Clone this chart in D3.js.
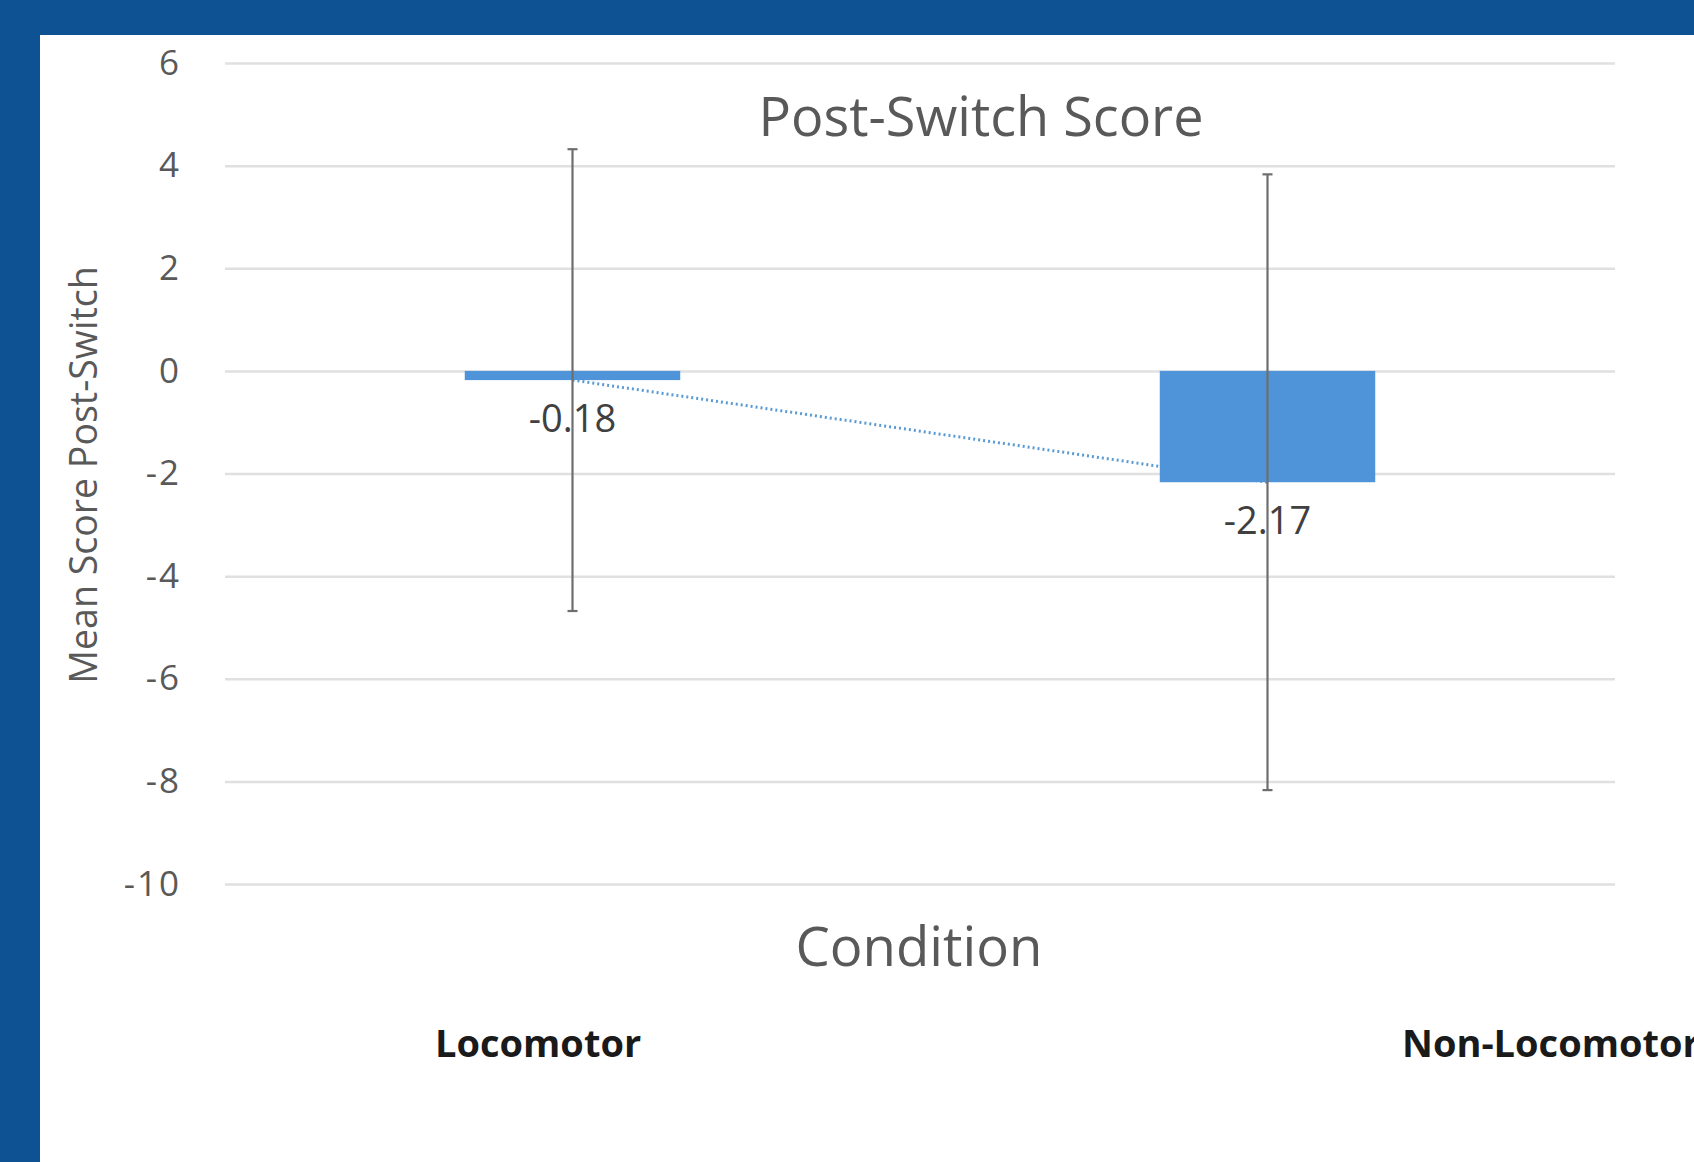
<!DOCTYPE html>
<html>
<head>
<meta charset="utf-8">
<script src="https://cdn.jsdelivr.net/npm/d3@7"></script>
<style>
  html, body { margin: 0; padding: 0; background: #0f5294; }
  svg { display: block; }
</style>
</head>
<body>
<svg id="chart"></svg>
<script>
// Chart data
const categories = ["Locomotor", "Non-Locomotor"];
const means = [-0.18, -2.17];
const errors = [4.5, 6.0];
const yTicks = [6, 4, 2, 0, -2, -4, -6, -8, -10];

const width = 1694;
const height = 1162;

const svg = d3.select("#chart")
    .attr("width", width)
    .attr("height", height);

// White panel sitting on the blue slide background
svg.append("rect")
    .attr("x", 40).attr("y", 35)
    .attr("width", width - 40).attr("height", height - 35)
    .attr("fill", "#ffffff");

const font = "'Open Sans', 'DejaVu Sans', sans-serif";

// Scales
const x = d3.scaleBand()
    .domain(categories)
    .range([225, 1615])
    .paddingInner(0.69)
    .paddingOuter(0.345);

const y = d3.scaleLinear()
    .domain([-10, 6])
    .range([884, 63]);

// Gridlines + tick labels through a left axis
const yAxis = d3.axisLeft(y)
    .tickValues(yTicks)
    .tickSize(-(1615 - 225))
    .tickPadding(44)
    .tickFormat(d3.format("d"));

const gAxis = svg.append("g")
    .attr("transform", "translate(225,0)")
    .call(yAxis);

gAxis.select(".domain").remove();
gAxis.selectAll(".tick line")
    .attr("stroke", "#e0e0e0")
    .attr("stroke-width", 2.5);
gAxis.selectAll(".tick text")
    .attr("fill", "#595959")
    .attr("font-family", font)
    .attr("font-size", 35)
    .attr("letter-spacing", 2)
    .text(d => d < 0 ? "-" + Math.abs(d) : d);

// Dotted trendline between the two means (behind the bars)
const trend = categories.map((c, i) => [x(c) + x.bandwidth() / 2, y(means[i])]);
svg.append("path")
    .attr("d", d3.line()(trend))
    .attr("fill", "none")
    .attr("stroke", "#5b9bd5")
    .attr("stroke-width", 3)
    .attr("stroke-dasharray", "2,3");

// Bars
svg.selectAll(".bar")
    .data(categories)
    .enter().append("rect")
    .attr("class", "bar")
    .attr("x", d => x(d))
    .attr("width", x.bandwidth())
    .attr("y", (d, i) => Math.min(y(0), y(means[i])))
    .attr("height", (d, i) => Math.max(6, Math.abs(y(means[i]) - y(0))))
    .attr("fill", "#4f93d8");

// Error bars
const eb = svg.selectAll(".err")
    .data(categories)
    .enter().append("g")
    .attr("class", "err")
    .attr("stroke", "#6e6e6e")
    .attr("stroke-width", 2.2);

eb.append("line")
    .attr("x1", d => x(d) + x.bandwidth() / 2)
    .attr("x2", d => x(d) + x.bandwidth() / 2)
    .attr("y1", (d, i) => y(means[i] + errors[i]))
    .attr("y2", (d, i) => y(means[i] - errors[i]));

[1, -1].forEach(sign => {
    eb.append("line")
        .attr("x1", d => x(d) + x.bandwidth() / 2 - 5)
        .attr("x2", d => x(d) + x.bandwidth() / 2 + 5)
        .attr("y1", (d, i) => y(means[i] + sign * errors[i]))
        .attr("y2", (d, i) => y(means[i] + sign * errors[i]));
});

// Data labels below the bars
svg.selectAll(".value-label")
    .data(categories)
    .enter().append("text")
    .attr("class", "value-label")
    .attr("x", d => x(d) + x.bandwidth() / 2)
    .attr("y", (d, i) => y(means[i]) + 52)
    .attr("text-anchor", "middle")
    .attr("fill", "#404040")
    .attr("font-family", font)
    .attr("font-size", 38)
    .text((d, i) => means[i].toFixed(2));

// Title
svg.append("text")
    .attr("x", 981).attr("y", 136)
    .attr("text-anchor", "middle")
    .attr("fill", "#595959")
    .attr("font-family", font)
    .attr("font-size", 54)
    .text("Post-Switch Score");

// Y axis title
svg.append("text")
    .attr("transform", "translate(97,475) rotate(-90)")
    .attr("text-anchor", "middle")
    .attr("fill", "#595959")
    .attr("font-family", font)
    .attr("font-size", 37.5)
    .text("Mean Score Post-Switch");

// X axis title
svg.append("text")
    .attr("x", 919).attr("y", 966)
    .attr("text-anchor", "middle")
    .attr("fill", "#595959")
    .attr("font-family", font)
    .attr("font-size", 54.5)
    .text("Condition");

// Category labels (offset from the bars as in the original slide)
const catLabelX = [435, 1402];
svg.selectAll(".cat-label")
    .data(categories)
    .enter().append("text")
    .attr("class", "cat-label")
    .attr("x", (d, i) => catLabelX[i])
    .attr("y", 1057)
    .attr("fill", "#1a1a1a")
    .attr("font-family", font)
    .attr("font-weight", "bold")
    .attr("font-size", 38)
    .text(d => d);
</script>
</body>
</html>
